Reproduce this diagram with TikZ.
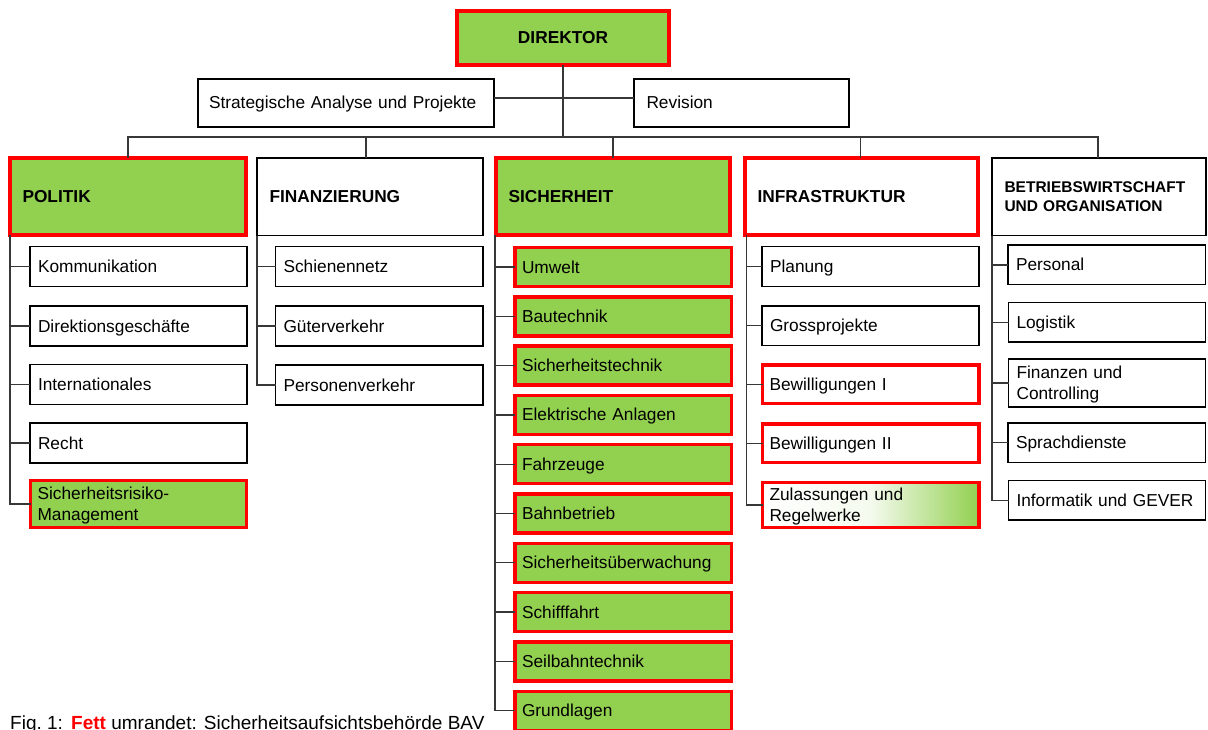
\documentclass[tikz,border=0pt]{standalone}
\usepackage{fontspec}
\setmainfont{Liberation Sans}
\definecolor{bavgreen}{RGB}{146,208,80}
\definecolor{bavred}{RGB}{255,0,0}
\definecolor{linegray}{RGB}{55,55,55}

% box given by its corners (x1,y1)-(x2,y2) in pixel units, y downwards
% #1 style, #2 left text inset, #3 name, #4 x1, #5 y1, #6 x2, #7 y2, #8 text
\newcommand{\obox}[8]{%
  \pgfmathsetmacro{\obw}{#6-#4}%
  \pgfmathsetmacro{\obh}{#7-#5}%
  \pgfmathsetmacro{\obt}{#6-#4-2*#2}%
  \node[#1, anchor=north west, minimum width=\obw pt, minimum height=\obh pt,
        text width=\obt pt, inner xsep=#2pt] (#3) at (#4,#5) {#8};}

\newcommand{\lnstrut}{\rule[-0.212em]{0pt}{1.117em}}

\tikzset{
  unit/.style={inner ysep=0pt, outer sep=0pt, align=left,
    font=\fontsize{17.3}{21}\selectfont,
    execute at begin node=\lnstrut, execute at end node=\lnstrut},
  plainbox/.style={unit, draw=black, line width=1.4pt, fill=white},
  hlbox/.style={unit, draw=bavred, line width=3.4pt, fill=bavgreen},
  redbox/.style={unit, draw=bavred, line width=3.4pt, fill=white},
  gradbox/.style={unit, draw=bavred, line width=3.4pt,
    left color=white, right color=bavgreen, middle color=bavgreen!10},
  head/.style={font=\fontsize{17.3}{21}\selectfont\bfseries},
  conn/.style={draw=linegray, line width=1.3pt},
}

\begin{document}
\begin{tikzpicture}[x=1pt, y=-1pt]
\useasboundingbox (0,0) rectangle (1208,729);
\fill[white] (0,0) rectangle (1208,729);

% --- top level ---
\obox{hlbox, head, align=center}{4}{dir}{457}{11}{669}{65}{DIREKTOR}
\obox{plainbox}{11}{sap}{198}{79}{494}{127}{Strategische Analyse und Projekte}
\obox{plainbox}{12.5}{rev}{634}{79}{849}{127}{Revision}

% --- divisions ---
\obox{hlbox, head}{12.5}{pol}{10}{158}{246}{235}{POLITIK}
\obox{plainbox, head}{12.5}{fin}{257}{158}{483}{235.5}{FINANZIERUNG}
\obox{hlbox, head}{12.5}{sic}{496}{158}{730}{235}{SICHERHEIT}
\obox{redbox, head}{12.5}{inf}{745}{158}{978}{235}{INFRASTRUKTUR}
\obox{plainbox, font=\fontsize{15.5}{19}\selectfont\bfseries}{12.5}{bet}{992}{158}{1206}{235.5}{BETRIEBSWIRTSCHAFT\\UND ORGANISATION}

% --- Politik ---
\obox{plainbox}{8}{kom}{30}{246.5}{247}{286.5}{Kommunikation}
\obox{plainbox}{8}{dge}{30}{306}{247}{346}{Direktionsgeschäfte}
\obox{plainbox}{8}{int}{30}{364.5}{247}{404.5}{Internationales}
\obox{plainbox}{8}{rec}{30}{423}{247}{463}{Recht}
\obox{hlbox}{7}{srm}{30.5}{480.5}{246.5}{527.5}{Sicherheitsrisiko-\\Management}

% --- Finanzierung ---
\obox{plainbox}{8}{sch}{275.5}{246.5}{483}{286.5}{Schienennetz}
\obox{plainbox}{8}{gue}{275.5}{306}{483}{346}{Güterverkehr}
\obox{plainbox}{8}{per}{275.5}{365}{483}{405}{Personenverkehr}

% --- Sicherheit ---
\foreach \txt [count=\i from 0] in {Umwelt, Bautechnik, Sicherheitstechnik,
    Elektrische Anlagen, Fahrzeuge, Bahnbetrieb, Sicherheitsüberwachung,
    Schifffahrt, Seilbahntechnik, Grundlagen} {
  \pgfmathsetmacro{\ty}{247.5+49.3*\i}
  \pgfmathsetmacro{\by}{\ty+39}
  \obox{hlbox}{7}{s\i}{515}{\ty}{731.5}{\by}{\txt}
}

% --- Infrastruktur ---
\obox{plainbox}{8}{pla}{762}{246.5}{979}{286.5}{Planung}
\obox{plainbox}{8}{gro}{762}{306}{979}{345.5}{Grossprojekte}
\obox{redbox}{7}{bw1}{762.5}{365}{979}{403.6}{Bewilligungen I}
\obox{redbox}{7}{bw2}{762.5}{424}{979}{462.6}{Bewilligungen II}
\obox{gradbox}{7}{zul}{762.5}{482.4}{979}{527.3}{Zulassungen und\\Regelwerke}

% --- Betriebswirtschaft und Organisation ---
\obox{plainbox}{8}{pers}{1008}{245}{1205.5}{284.7}{Personal}
\obox{plainbox}{8}{log}{1008.5}{302.4}{1205.5}{342}{Logistik}
\obox{plainbox}{8}{fco}{1008.5}{359}{1205.5}{407}{Finanzen und\\Controlling}
\obox{plainbox}{8}{spr}{1008}{423}{1205.5}{462.6}{Sprachdienste}
\obox{plainbox}{8}{inf2}{1008.5}{480.7}{1205.5}{520}{Informatik und GEVER}

% --- connectors: director level ---
\coordinate (bus) at (563,137);
\draw[conn] (dir.south) -- (dir.south |- bus);
\draw[conn] ([yshift=5pt]sap.east) -- ([yshift=5pt]rev.west);
\draw[conn] (bus) -| (pol.north);
\draw[conn] (bus) -| ([xshift=-4pt]fin.north);
\draw[conn] (bus) -| (sic.north);
\draw[conn] (bus) -| ([xshift=-1pt]inf.north);
\draw[conn] (bus) -| ([xshift=-1pt]bet.north);

% --- connectors: units ---
\foreach \c in {kom, dge, int, rec, srm}
  \draw[conn] (pol.south west) |- (\c.west);
\foreach \c in {sch, gue, per}
  \draw[conn] (fin.south west) |- (\c.west);
\foreach \i in {0,...,9}
  \draw[conn] ([xshift=-1pt]sic.south west) |- (s\i.west);
\foreach \c in {pla, gro, bw1, bw2, zul}
  \draw[conn] ([xshift=1.5pt]inf.south west) |- (\c.west);
\foreach \c in {pers, log, fco, spr, inf2}
  \draw[conn] (bet.south west) |- (\c.west);

% --- caption ---
\node[anchor=base west, inner sep=0pt, font=\fontsize{19}{22}\selectfont] (cap) at (10,729.5)
  {Fig.\ 1:\hspace{8.2pt}\textcolor{bavred}{\textbf{Fett}} umrandet: Sicherheitsaufsichtsbehörde BAV};
\end{tikzpicture}
\end{document}
